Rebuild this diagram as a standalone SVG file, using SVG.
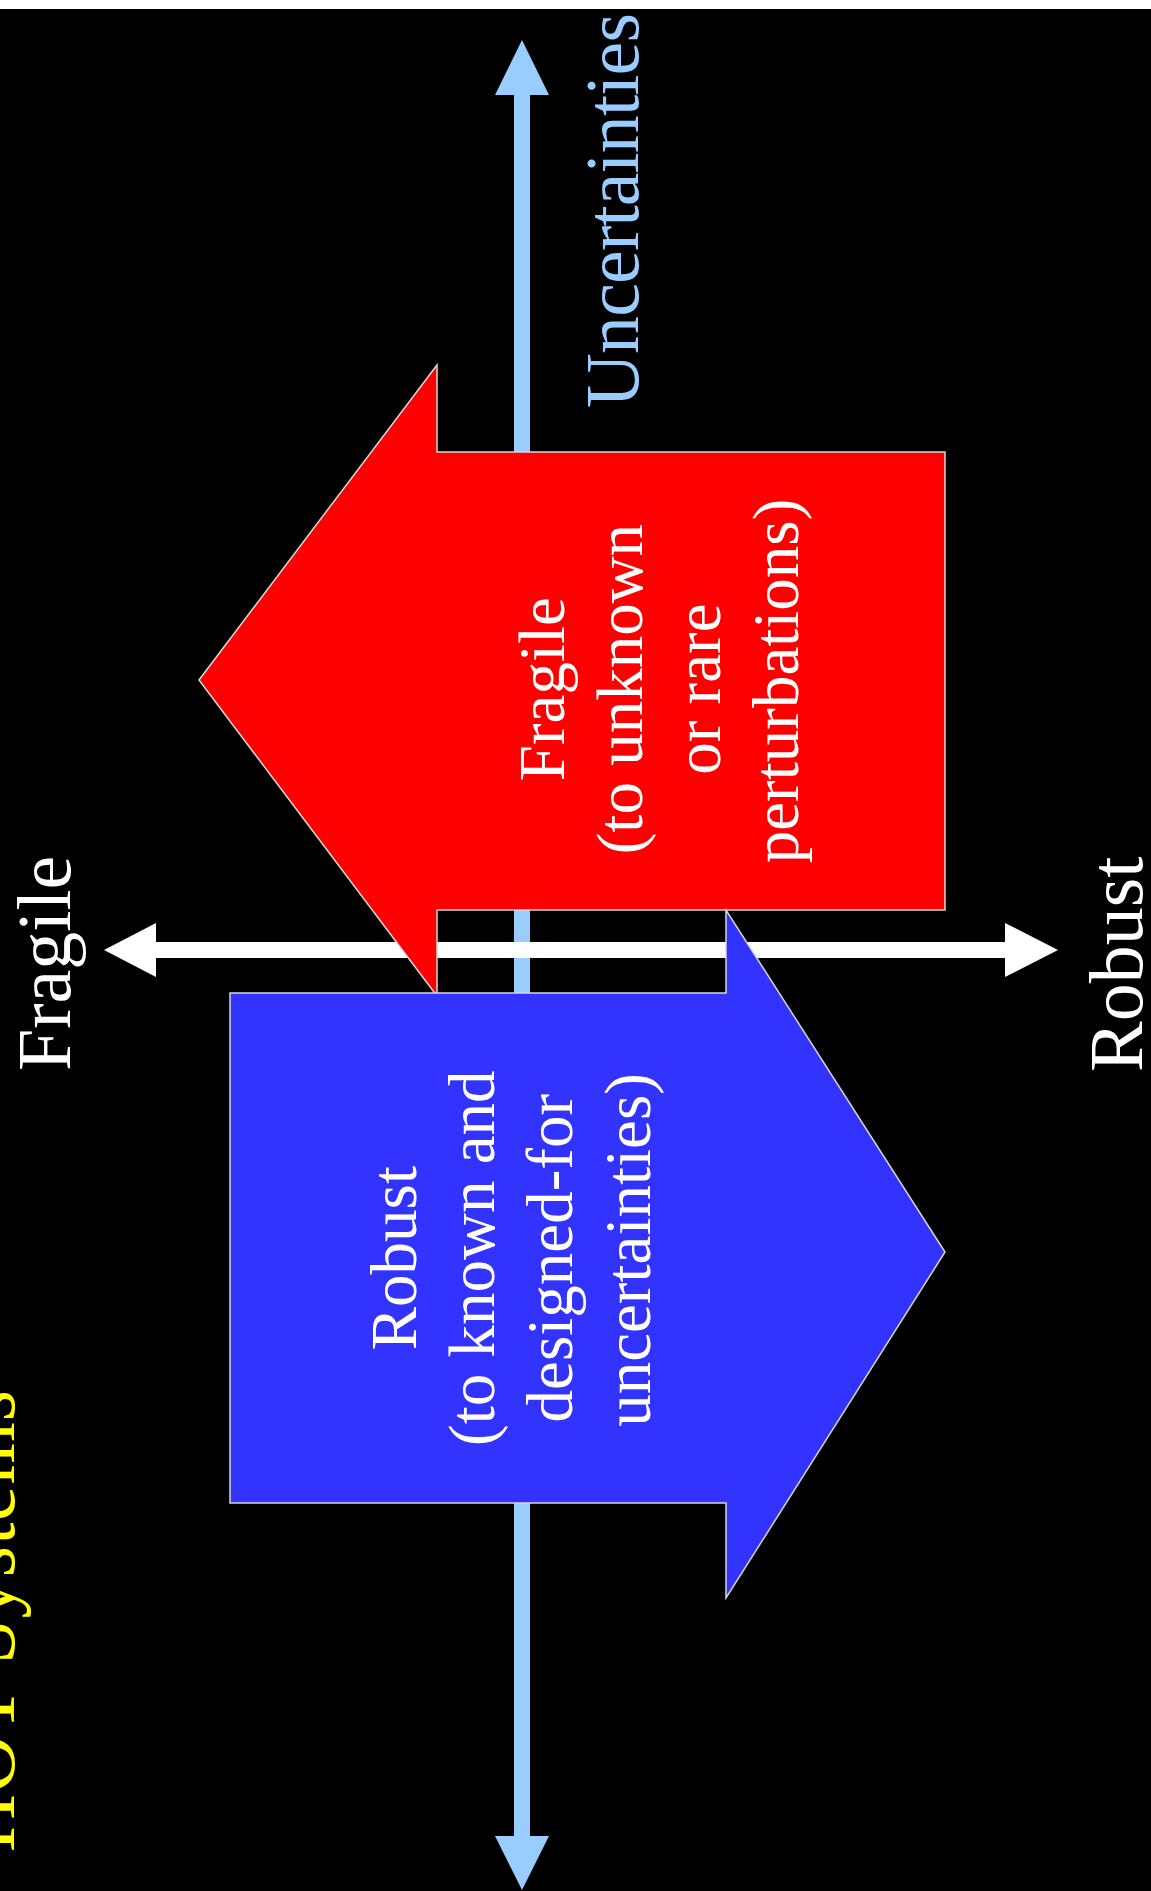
<svg xmlns="http://www.w3.org/2000/svg" width="1151" height="1891" viewBox="0 0 1151 1891">
  <style>
    .serif { font-family: "Liberation Serif", "Times New Roman", serif; }
    .axis-label { font-size: 76px; }
    .box-label { font-size: 65px; fill: #ffffff; }
    .block { stroke: #d8d8d8; stroke-width: 1.5; stroke-linejoin: miter; }
  </style>

  <!-- slide background with light band along the top edge -->
  <rect x="0" y="0" width="1151" height="1891" fill="#000000"/>
  <rect x="0" y="0" width="1151" height="9" fill="#ffffff"/>

  <!-- title, running up the left edge -->
  <g id="title">
    <text class="serif" transform="translate(14,1852) rotate(-90)" font-size="80" fill="#ffff00" textLength="462" lengthAdjust="spacing">HOT Systems</text>
  </g>

  <!-- the two double-headed axes -->
  <g id="connectors">
    <polygon id="axis-uncertainties" fill="#99ccff"
      points="522,40 549,95 530,95 530,1836 549,1836 522,1890 495,1836 514,1836 514,95 495,95"/>
    <polygon id="axis-robustness" fill="#ffffff"
      points="104,950 156,923 156,942 1005,942 1005,923 1058,950 1005,977 1005,958 156,958 156,977"/>
  </g>

  <!-- axis labels -->
  <g id="label-uncertainties">
    <text class="serif axis-label" fill="#99ccff" transform="translate(638,408) rotate(-90)" textLength="395" lengthAdjust="spacing">Uncertainties</text>
  </g>
  <g id="label-fragile">
    <text class="serif axis-label" fill="#ffffff" transform="translate(70,1071) rotate(-90)">Fragile</text>
  </g>
  <g id="label-robust">
    <text class="serif axis-label" fill="#ffffff" transform="translate(1142,1072) rotate(-90)">Robust</text>
  </g>

  <!-- red block arrow pointing towards "Fragile" -->
  <g id="node-fragile">
    <polygon class="block" fill="#ff0000"
      points="199,680 437,365 437,452 945,452 945,910 437,910 437,996"/>
    <text class="serif box-label" text-anchor="middle" transform="translate(0,681) rotate(-90)">
      <tspan x="0" y="564">Fragile</tspan>
      <tspan x="0" y="642">(to unknown</tspan>
      <tspan x="0" y="720">or rare</tspan>
      <tspan x="0" y="798">perturbations)</tspan>
    </text>
  </g>

  <!-- blue block arrow pointing towards "Robust" -->
  <g id="node-robust">
    <polygon class="block" fill="#3333ff"
      points="230,993 726,993 726,910 945,1252 726,1598 726,1503 230,1503"/>
    <text class="serif box-label" text-anchor="middle" transform="translate(0,1250) rotate(-90)">
      <tspan x="0" y="416">Robust</tspan>
      <tspan x="0" y="494">(to known and</tspan>
      <tspan x="0" y="572">designed-for</tspan>
      <tspan x="0" y="650">uncertainties)</tspan>
    </text>
  </g>
</svg>
